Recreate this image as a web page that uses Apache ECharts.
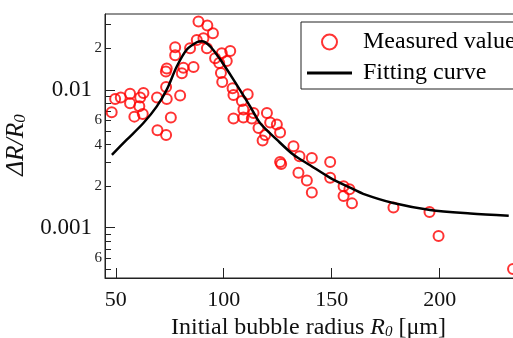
<!DOCTYPE html>
<html><head><meta charset="utf-8">
<script src="https://cdn.jsdelivr.net/npm/echarts@6/dist/echarts.min.js"></script>
<style>html,body{margin:0;padding:0;background:#fff}#c{width:513px;height:338px}</style>
</head><body><div id="c"></div>
<script>
const xTickValues = [50, 100, 150, 200];
const yMajorTickValues = [0.001, 0.01];
const yMinorTickValues = [0.0005, 0.0006, 0.0007, 0.0008, 0.0009, 0.002, 0.003, 0.004, 0.005, 0.006, 0.007, 0.008, 0.009, 0.02, 0.03];
const yLabelValues = [0.0006, 0.001, 0.002, 0.004, 0.006, 0.01, 0.02];

const measuredR = [77.5, 73.6, 73.2, 81.3, 86.0, 73.3, 79.8, 73.6, 69.1, 62.8, 61.3, 56.6, 52.3, 49.7, 56.6, 60.9, 48.1, 58.6, 62.5, 75.5, 69.3, 73.3,
  88.3, 92.4, 95.0, 77.5, 87.5, 90.6, 84.4, 92.2, 103.0, 99.1, 96.0, 97.9, 80.6, 99.3, 104.1, 111.1, 108.4, 101.4, 98.7,
  104.5, 109.1, 113.8, 120.0, 104.5, 109.1, 113.0, 116.1, 121.5, 124.6, 126.1, 118.0, 132.3, 119.2, 135.1, 140.8, 126.1, 126.6,
  149.3, 134.6, 138.5, 140.8, 149.3, 155.5, 158.2, 155.5, 159.4, 178.6, 195.3, 199.5, 234.0];
const measuredDR = [0.0179, 0.0143, 0.0136, 0.0145, 0.0147, 0.0105, 0.0091, 0.0086, 0.0088, 0.0095, 0.0088, 0.0094, 0.0088, 0.0086, 0.0080, 0.0076, 0.0069, 0.0064, 0.0067, 0.0063, 0.0051, 0.0047,
  0.0314, 0.0294, 0.0258, 0.0204, 0.0231, 0.0237, 0.0201, 0.0201, 0.0192, 0.0185, 0.0170, 0.0157, 0.0132, 0.0114, 0.0103, 0.0093, 0.0083, 0.0162, 0.0133,
  0.0092, 0.0072, 0.0068, 0.0068, 0.0062, 0.0063, 0.0062, 0.0053, 0.0058, 0.0056, 0.0049, 0.0043, 0.0039, 0.0047, 0.0033, 0.0032, 0.0030, 0.0029,
  0.0030, 0.0025, 0.0022, 0.0018, 0.0023, 0.0020, 0.0019, 0.0017, 0.0015, 0.0014, 0.0013, 0.00087, 0.00050];

const fitR = [48.2, 55.1, 62.8, 69.0, 73.6, 78.3, 82.9, 87.5, 89.9, 93.7, 98.4, 104.5, 112.2, 116.8, 124.6, 132.3, 140.0, 149.3, 158.5, 164.6, 178.5, 195.6, 214.2, 232.0];
const fitDR = [0.00338, 0.00435, 0.00575, 0.0076, 0.01005, 0.01485, 0.01965, 0.0222, 0.0226, 0.02076, 0.01662, 0.01188, 0.0076, 0.00575, 0.00435, 0.00338, 0.00284, 0.0023, 0.00195, 0.00176, 0.00151, 0.001345, 0.001268, 0.00122];

const yMin = 0.0004305, yMax = 0.03562;
const serif = '"Liberation Serif", "DejaVu Serif", serif';
const axisColor = '#222';

function fmtY(v) {
  const e = Math.floor(Math.log10(v) + 1e-9);
  const m = Math.round(v / Math.pow(10, e));
  if (m === 1) return '{big|' + v.toFixed(-e) + '}';
  return '{small|' + m + '}';
}

const chart = echarts.init(document.getElementById('c'), null, {renderer: 'canvas'});
const option = {
  animation: false,
  backgroundColor: '#fff',
  grid: {left: 105, top: 14, right: -13, bottom: 60, show: true, borderColor: axisColor, borderWidth: 1, backgroundColor: 'transparent', containLabel: false, outerBoundsMode: 'none'},
  legend: {
    orient: 'vertical', left: 301, top: 22, itemWidth: 45, itemHeight: 15, itemGap: 7,
    padding: [8, 6, 4, 6], borderColor: axisColor, borderWidth: 1, backgroundColor: '#fff',
    textStyle: {fontFamily: serif, fontSize: 24, color: '#000', lineHeight: 22, padding: [0, 0, 0, 6]},
    data: [
      {name: 'Measured value'},
      {name: 'Fitting curve', icon: 'path://M0,0 L45,0 L45,3 L0,3 Z', itemStyle: {color: '#000'}}
    ]
  },
  xAxis: {
    type: 'value', min: 45, max: 240,
    axisLine: {show: true, onZero: false, lineStyle: {color: axisColor, width: 1}},
    axisTick: {show: true, inside: true, length: 10, customValues: xTickValues, lineStyle: {color: axisColor, width: 1}},
    axisLabel: {show: true, customValues: xTickValues, margin: 11, fontFamily: serif, fontSize: 22, color: '#111'},
    splitLine: {show: false},
    name: '{a|Initial bubble radius }{i|R}{sub|0}{a| [μm]}',
    nameLocation: 'middle', nameGap: 35,
    nameTextStyle: {
      padding: [0, 14, 0, 0],
      rich: {
        a: {fontFamily: serif, fontSize: 24, color: '#111', lineHeight: 24},
        i: {fontFamily: serif, fontSize: 24, fontStyle: 'italic', color: '#111', lineHeight: 24},
        sub: {fontFamily: serif, fontSize: 15, fontStyle: 'italic', color: '#111', lineHeight: 10, verticalAlign: 'bottom'}
      }
    }
  },
  yAxis: [{
    type: 'log', logBase: 10, min: yMin, max: yMax, position: 'left',
    axisLine: {show: true, onZero: false, lineStyle: {color: axisColor, width: 1}},
    axisTick: {show: true, inside: true, length: 10, customValues: yMajorTickValues, lineStyle: {color: axisColor, width: 1}},
    minorTick: {show: false},
    axisLabel: {
      show: true, customValues: yLabelValues, margin: 3, formatter: fmtY,
      rich: {
        big: {fontFamily: serif, fontSize: 23, color: '#111', padding: [0, 10, 0, 0]},
        small: {fontFamily: serif, fontSize: 15, color: '#222'}
      }
    },
    splitLine: {show: false},
    name: '{i|ΔR/R}{sub|0}', nameLocation: 'middle', nameGap: 61, nameRotate: 90,
    nameTextStyle: {
      padding: [0, 0, 0, 2],
      rich: {
        i: {fontFamily: serif, fontSize: 25.5, fontStyle: 'italic', color: '#111', lineHeight: 25},
        sub: {fontFamily: serif, fontSize: 17, fontStyle: 'italic', color: '#111', lineHeight: 10, verticalAlign: 'bottom'}
      }
    }
  }, {
    type: 'log', logBase: 10, min: yMin, max: yMax, position: 'left',
    axisLine: {show: false},
    axisTick: {show: true, inside: true, length: 6, customValues: yMinorTickValues, lineStyle: {color: axisColor, width: 1}},
    axisLabel: {show: false},
    splitLine: {show: false}
  }],
  series: [{
    name: 'Measured value', type: 'scatter', xAxisIndex: 0, yAxisIndex: 0,
    data: measuredR.map((r, i) => [r, measuredDR[i]]),
    symbol: 'circle', symbolSize: 10,
    itemStyle: {color: 'rgba(255,255,255,0)', borderColor: '#ff0000', borderWidth: 2},
    z: 3
  }, {
    name: 'Fitting curve', type: 'line', xAxisIndex: 0, yAxisIndex: 0,
    data: fitR.map((r, i) => [r, fitDR[i]]),
    symbol: 'none', smooth: 0.3,
    lineStyle: {color: '#000', width: 2.5},
    itemStyle: {color: '#000'},
    z: 4
  }]
};
chart.setOption(option);
</script>
</body></html>
